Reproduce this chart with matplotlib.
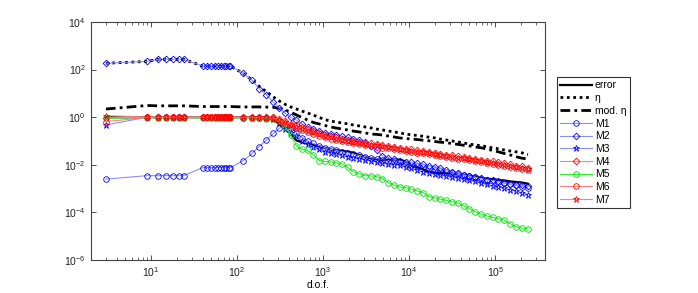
#!/usr/bin/env python3
"""Error / estimator convergence plot for the marking strategies M1..M7."""

import matplotlib
matplotlib.use("Agg")
import matplotlib.pyplot as plt
from matplotlib.ticker import LogLocator, NullLocator

plt.rcParams["font.family"] = ["Liberation Sans", "DejaVu Sans"]
plt.rcParams["mathtext.fontset"] = "custom"
plt.rcParams["mathtext.rm"] = "Liberation Sans"
plt.rcParams["mathtext.it"] = "Liberation Sans:italic"

# degrees of freedom
dof = [3, 9, 12, 15, 18, 21, 24,
       40, 45, 50, 55, 60, 65, 70, 75, 80, 84,
       118, 150, 180, 220, 265, 310, 360, 420, 490, 570,
       660, 770, 900, 1050, 1220, 1420, 1650, 1930, 2250, 2630,
       3070, 3590, 4190, 4900, 5720, 6680, 7800, 9100, 10600, 12400,
       14500, 16900, 19800, 23100, 27000, 31500, 36800, 43000, 50200, 58600,
       68500, 80000, 93400, 109000, 127000, 149000, 174000, 203000, 240000]

error = [1.0, 1.0, 1.0, 1.0, 1.0, 1.0, 1.0,
         1.0, 1.0, 1.0, 1.0, 1.0, 1.0, 1.0, 1.0, 1.0, 1.0,
         1.0, 1.0, 0.98, 0.95, 0.85, 0.5, 0.33, 0.2, 0.105, 0.089,
         0.076, 0.069, 0.06, 0.052, 0.044, 0.041, 0.039, 0.036, 0.032, 0.026,
         0.022, 0.019, 0.0174, 0.0158, 0.0162, 0.0166, 0.0166, 0.0138, 0.0095, 0.0079,
         0.0066, 0.005, 0.0047, 0.0046, 0.0045, 0.0044, 0.0042, 0.0038, 0.0034, 0.0032,
         0.0028, 0.0026, 0.0025, 0.0023, 0.0022, 0.002, 0.0019, 0.0018, 0.0016]

eta = [184, 220, 270, 270, 270, 270, 270,
       140, 140, 140, 140, 140, 140, 140, 140, 140, 140,
       69, 36, 20, 11.7, 7.1, 4.8, 3.5, 2.7, 2.2, 1.8,
       1.5, 1.23, 0.98, 0.79, 0.69, 0.63, 0.575, 0.525, 0.47, 0.43,
       0.39, 0.355, 0.316, 0.29, 0.263, 0.24, 0.219, 0.195, 0.182, 0.17,
       0.158, 0.145, 0.135, 0.12, 0.11, 0.1, 0.091, 0.083, 0.074, 0.068,
       0.063, 0.058, 0.051, 0.047, 0.042, 0.038, 0.035, 0.032, 0.027]

mod_eta = [2.2, 3.1, 3.0, 3.0, 3.0, 3.0, 3.0,
           2.8, 2.8, 2.8, 2.8, 2.8, 2.8, 2.8, 2.8, 2.8, 2.8,
           2.7, 2.7, 2.7, 2.65, 2.6, 2.35, 2.0, 1.65, 1.24, 0.97,
           0.76, 0.6, 0.52, 0.45, 0.39, 0.35, 0.32, 0.29, 0.26, 0.24,
           0.22, 0.195, 0.19, 0.178, 0.162, 0.148, 0.134, 0.127, 0.121, 0.115,
           0.108, 0.102, 0.095, 0.089, 0.085, 0.078, 0.072, 0.066, 0.062, 0.056,
           0.052, 0.046, 0.04, 0.035, 0.03, 0.026, 0.022, 0.019, 0.0175]

m1 = [0.0025, 0.0035, 0.0035, 0.0035, 0.0035, 0.0035, 0.0035,
      0.0076, 0.0076, 0.0076, 0.0076, 0.0076, 0.0076, 0.0076, 0.0076, 0.0076, 0.0076,
      0.0148, 0.03, 0.057, 0.11, 0.21, 0.34, 0.45, 0.35, 0.22, 0.14,
      0.1, 0.079, 0.063, 0.052, 0.045, 0.04, 0.035, 0.032, 0.028, 0.025,
      0.022, 0.02, 0.018, 0.0166, 0.0151, 0.0138, 0.0126, 0.0112, 0.01, 0.0089,
      0.0079, 0.0071, 0.0063, 0.0056, 0.005, 0.0045, 0.004, 0.0036, 0.0033, 0.003,
      0.0026, 0.0023, 0.0021, 0.0019, 0.0017, 0.0015, 0.00135, 0.0012, 0.00107]

m2 = [184, 220, 270, 270, 270, 270, 270,
      140, 140, 140, 140, 140, 140, 140, 140, 140, 140,
      69, 35, 16, 8.7, 4.2, 2.5, 1.5, 1.0, 0.76, 0.5,
      0.38, 0.32, 0.26, 0.22, 0.2, 0.178, 0.158, 0.141, 0.12, 0.105,
      0.089, 0.063, 0.04, 0.024, 0.02, 0.0174, 0.0141, 0.0132, 0.0126, 0.0117,
      0.0105, 0.0093, 0.0083, 0.0074, 0.0063, 0.0052, 0.0045, 0.0038, 0.0034, 0.003,
      0.0027, 0.0024, 0.0022, 0.002, 0.0018, 0.0016, 0.00148, 0.00135, 0.00126]

m3 = [0.47, 1.0, 1.0, 1.0, 1.0, 1.0, 1.0,
      1.0, 1.0, 1.0, 1.0, 1.0, 1.0, 1.0, 1.0, 1.0, 1.0,
      1.0, 1.0, 1.0, 0.98, 0.85, 0.55, 0.33, 0.22, 0.16, 0.1,
      0.076, 0.058, 0.045, 0.035, 0.032, 0.028, 0.025, 0.022, 0.02, 0.018,
      0.0166, 0.0148, 0.0132, 0.012, 0.011, 0.01, 0.0098, 0.0079, 0.0071, 0.006,
      0.0051, 0.0046, 0.004, 0.0036, 0.0033, 0.003, 0.0028, 0.0025, 0.0022, 0.002,
      0.0017, 0.0015, 0.0013, 0.00117, 0.00105, 0.00091, 0.00079, 0.00068, 0.00056]

m4 = [0.95, 1.0, 1.0, 1.0, 1.0, 1.0, 1.0,
      1.0, 1.0, 1.0, 1.0, 1.0, 1.0, 1.0, 1.0, 1.0, 1.0,
      1.0, 1.0, 1.0, 1.0, 1.0, 0.85, 0.67, 0.54, 0.45, 0.37,
      0.31, 0.26, 0.21, 0.186, 0.158, 0.141, 0.126, 0.112, 0.102, 0.093,
      0.085, 0.08, 0.073, 0.066, 0.061, 0.055, 0.05, 0.047, 0.044, 0.04,
      0.038, 0.036, 0.032, 0.029, 0.027, 0.025, 0.0225, 0.021, 0.0195, 0.0177,
      0.0162, 0.0151, 0.0138, 0.0125, 0.0114, 0.0104, 0.0093, 0.0085, 0.0074]

m5 = [0.9, 0.95, 0.95, 0.95, 0.95, 0.95, 0.95,
      0.94, 0.94, 0.94, 0.94, 0.94, 0.94, 0.94, 0.94, 0.94, 0.94,
      0.95, 0.93, 0.9, 0.85, 0.8, 0.68, 0.4, 0.18, 0.063, 0.045,
      0.04, 0.027, 0.015, 0.0138, 0.0132, 0.012, 0.011, 0.0079, 0.0052, 0.0042,
      0.0035, 0.0034, 0.0032, 0.0026, 0.0018, 0.0014, 0.00117, 0.0011, 0.00095, 0.00079,
      0.00068, 0.00046, 0.00041, 0.00036, 0.00032, 0.00028, 0.00025, 0.00019, 0.000145, 0.000107,
      0.000085, 0.000071, 0.000062, 0.000054, 0.000047, 0.000034, 0.000025, 0.000022, 0.00002]

m6 = [0.65, 0.98, 0.98, 0.98, 0.98, 0.98, 0.98,
      0.98, 0.98, 0.98, 0.98, 0.98, 0.98, 0.98, 0.98, 0.98, 0.98,
      0.97, 0.97, 0.96, 0.95, 0.9, 0.68, 0.54, 0.43, 0.36, 0.3,
      0.25, 0.205, 0.17, 0.149, 0.127, 0.113, 0.101, 0.09, 0.082, 0.075,
      0.068, 0.064, 0.058, 0.053, 0.049, 0.044, 0.041, 0.038, 0.035, 0.032,
      0.031, 0.029, 0.026, 0.0235, 0.0215, 0.0198, 0.018, 0.0171, 0.0157, 0.0142,
      0.013, 0.0122, 0.0111, 0.0101, 0.0092, 0.0084, 0.0075, 0.0068, 0.006]

m7 = [1.15, 1.02, 1.02, 1.02, 1.02, 1.02, 1.02,
      1.02, 1.02, 1.02, 1.02, 1.02, 1.02, 1.02, 1.02, 1.02, 1.02,
      1.0, 1.0, 0.98, 0.97, 0.95, 0.76, 0.6, 0.48, 0.4, 0.33,
      0.275, 0.23, 0.19, 0.166, 0.141, 0.126, 0.112, 0.1, 0.091, 0.083,
      0.076, 0.071, 0.065, 0.059, 0.054, 0.049, 0.045, 0.042, 0.039, 0.036,
      0.034, 0.032, 0.029, 0.026, 0.024, 0.022, 0.02, 0.019, 0.0174, 0.0158,
      0.0145, 0.0135, 0.0123, 0.0112, 0.0102, 0.0093, 0.0083, 0.0076, 0.0066]

fig = plt.figure(figsize=(6.98, 2.93), dpi=100)
ax = fig.add_axes([0.130, 0.1126, 0.651, 0.8124])

# estimator / error curves (black, no markers)
ax.loglog(dof, error, color="black", lw=1.6, label="error")
ax.loglog(dof, eta, color="black", lw=2.0, linestyle=(0, (1, 1.3)), label="η")
ax.loglog(dof, mod_eta, color="black", lw=2.0, linestyle=(0, (3.5, 1.5, 1, 1.5)),
          label="mod. η")

# marking strategies
light_blue = (0.55, 0.55, 1.0)
light_red = (1.0, 0.5, 0.5)
strategies = [
    (m1, "o", light_blue, "#0000ff", "M1"),
    (m2, "D", light_blue, "#0000ff", "M2"),
    (m3, "*", light_blue, "#0000ff", "M3"),
    (m4, "D", light_red, "#ff0000", "M4"),
    (m5, "o", "#33ee33", "#00dd00", "M5"),
    (m6, "o", light_red, "#ff0000", "M6"),
    (m7, "*", light_red, "#ff0000", "M7"),
]
marker_size = {"o": 4.0, "D": 3.4, "*": 5.0}
for vals, marker, lc, mc, name in strategies:
    ax.loglog(dof, vals, color=lc, lw=0.8, marker=marker,
              markersize=marker_size[marker],
              markerfacecolor="none", markeredgecolor=mc, markeredgewidth=0.6,
              label=name)

ax.set_xlim(2, 3.8e5)
ax.set_ylim(1e-6, 1e4)
ax.set_yticks([1e-6, 1e-4, 1e-2, 1e0, 1e2, 1e4])
ax.yaxis.set_minor_locator(NullLocator())
ax.xaxis.set_major_locator(LogLocator(base=10, numticks=10))
ax.xaxis.set_minor_locator(LogLocator(base=10, subs=range(2, 10), numticks=20))

ax.tick_params(which="both", direction="in", top=True, right=True,
               labelsize=7.5, colors="#333333", labelcolor="#222222")
ax.tick_params(which="major", length=3.5, width=0.6)
ax.tick_params(which="minor", length=2, width=0.5)
for sp in ax.spines.values():
    sp.set_color("#444444")
    sp.set_linewidth(0.8)

ax.set_xlabel("d.o.f.", fontsize=7.5, labelpad=1)

leg = ax.legend(loc="upper left", bbox_to_anchor=(0.7976, 0.738),
                bbox_transform=fig.transFigure, fontsize=7.5, numpoints=1,
                handlelength=3.0, handletextpad=0.3, labelspacing=0.26,
                borderpad=0.35, borderaxespad=0, fancybox=False, framealpha=1)
leg.get_frame().set_edgecolor("#333333")
leg.get_frame().set_linewidth(0.8)

fig.savefig("out.png", dpi=100, facecolor="white")
